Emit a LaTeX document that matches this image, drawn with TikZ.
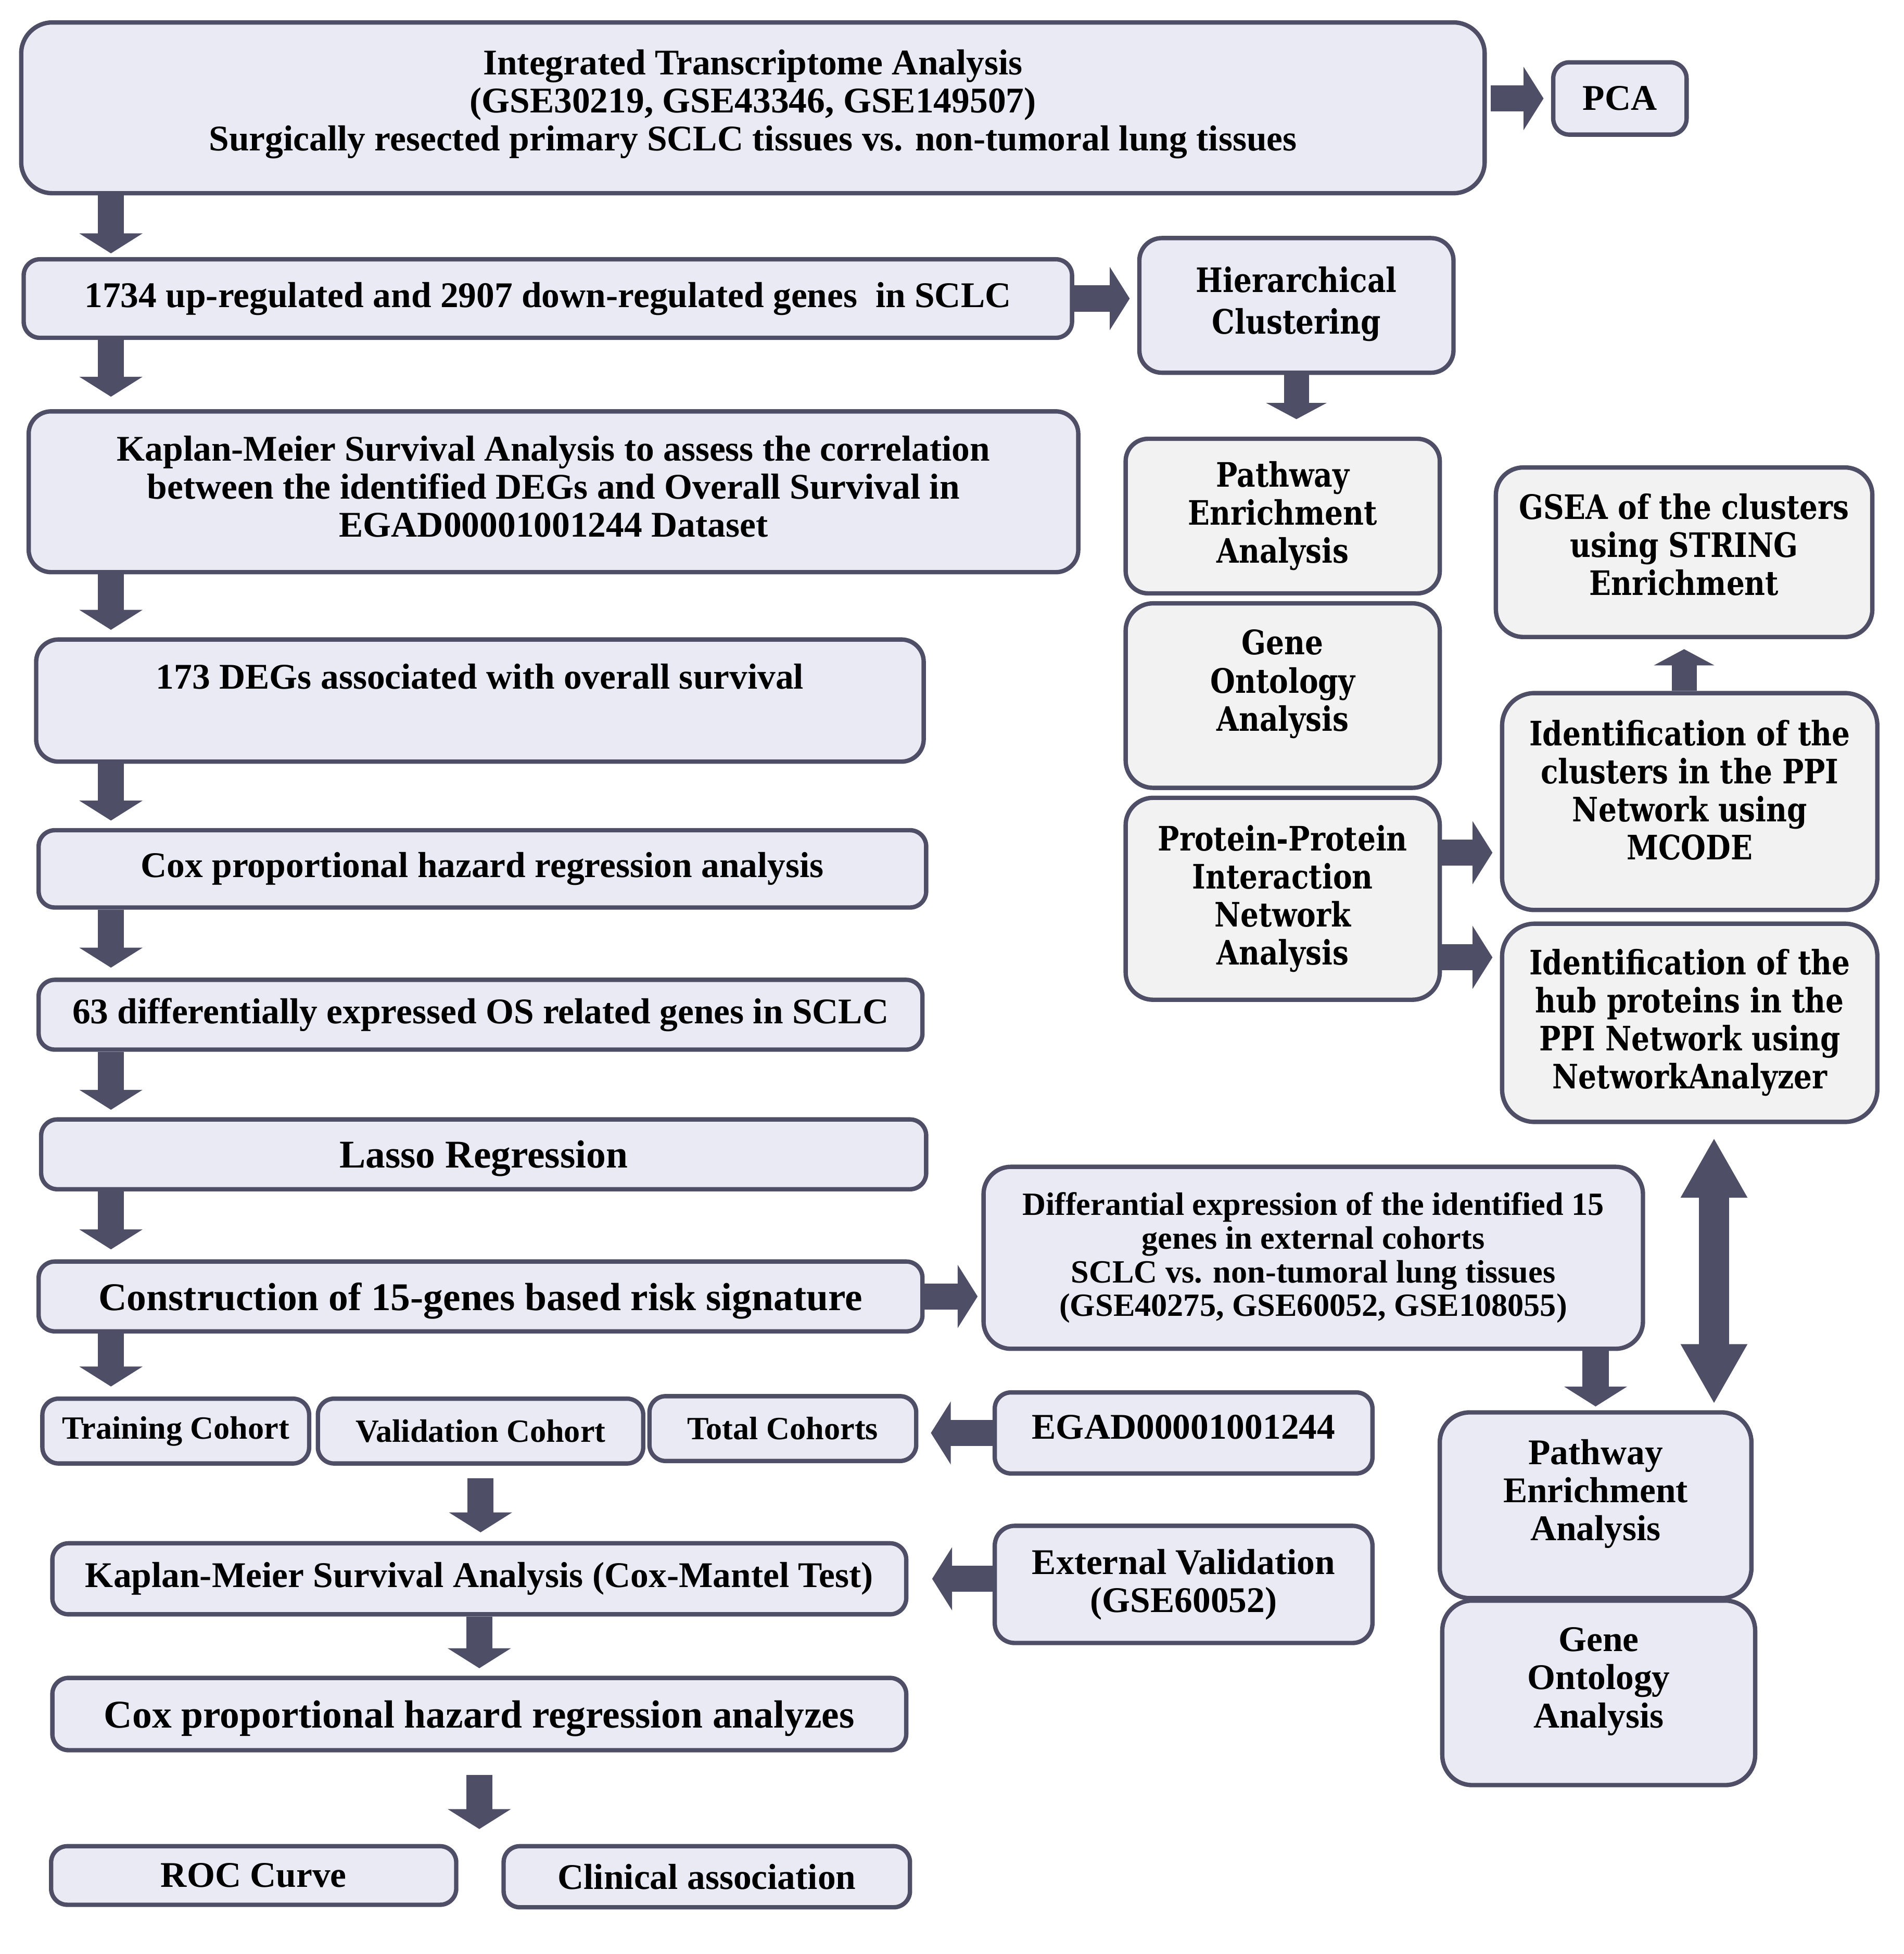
\documentclass[tikz,border=0pt]{standalone}
\usepackage{fontspec}
\setmainfont{Liberation Serif}
\newfontfamily\centfont[FakeStretch=0.85]{DejaVu Serif}
\usetikzlibrary{arrows.meta,calc}
\definecolor{edge}{RGB}{78,78,102}
\definecolor{lav}{RGB}{234,234,244}
\definecolor{pale}{RGB}{242,242,242}

\begin{document}
\begin{tikzpicture}[x=1pt,y=-1pt,
	box/.style={draw=edge,line width=3.5pt,rounded corners=13pt,fill=lav,align=center,inner sep=0pt,font=\bfseries\fontsize{29}{30.5}\selectfont},
	gbox/.style={box,fill=pale,font=\centfont\bfseries\fontsize{27}{30.5}\selectfont},
	big/.style={font=\bfseries\fontsize{31.5}{33}\selectfont,text depth=0pt},
	mid/.style={font=\bfseries\fontsize{26}{27}\selectfont},
	flow/.style={draw=edge,line width=21pt,-{Triangle[width=50pt,length=16pt]},shorten >=6pt},
	flowsm/.style={draw=edge,line width=20pt,-{Triangle[width=48pt,length=13pt]}},
	flowdbl/.style={draw=edge,line width=24pt,{Triangle[width=50pt,length=48pt]}-{Triangle[width=50pt,length=48pt]},shorten <=11pt,shorten >=5pt}]
	\useasboundingbox (0,0) rectangle (1527,1567.5);
	% left column
	\node[box,rounded corners=25pt,minimum width=1174pt,minimum height=137pt] (integ) at (604,86.5) {Integrated Transcriptome Analysis\\(GSE30219, GSE43346, GSE149507)\\Surgically resected primary SCLC tissues vs. non-tumoral lung tissues\\[-18pt]~};
	\node[box,minimum width=107pt,minimum height=58pt] (pca) at (1299.5,79) {PCA};
	\node[box,minimum width=841pt,minimum height=63pt] (degs) at (439.5,239.5) {1734 up-regulated and 2907 down-regulated genes\ \ in SCLC};
	\node[box,minimum width=842pt,minimum height=129pt,rounded corners=18pt] (kmsurv) at (444,394.5) {Kaplan-Meier Survival Analysis to assess the correlation\\between the identified DEGs and Overall Survival in\\EGAD00001001244 Dataset\\[-22pt]~};
	\node[box,minimum width=712pt,minimum height=98pt,rounded corners=18pt] (osdegs) at (385,562) {173 DEGs associated with overall survival\\[8pt]~};
	\node[box,minimum width=712pt,minimum height=62pt] (coxa) at (387,697) {Cox proportional hazard regression analysis};
	\node[box,minimum width=709pt,minimum height=56pt] (osgenes) at (385.5,814) {63 differentially expressed OS related genes in SCLC};
	\node[box,big,minimum width=710pt,minimum height=56pt] (lasso) at (388,926) {Lasso Regression};
	\node[box,big,minimum width=709pt,minimum height=56pt] (sig) at (385.5,1040) {Construction of 15-genes based risk signature};
	\node[box,mid,minimum width=214pt,minimum height=52pt] (train) at (141,1148) {Training Cohort};
	\node[box,mid,minimum width=261pt,minimum height=52pt] (valid) at (385.5,1148) {Validation Cohort};
	\node[box,mid,minimum width=214pt,minimum height=52pt] (total) at (628,1146) {Total Cohorts};
	\node[box,minimum width=685pt,minimum height=57pt] (kmcox) at (384.5,1266.5) {Kaplan-Meier Survival Analysis (Cox-Mantel Test)};
	\node[box,big,minimum width=685pt,minimum height=58pt] (coxb) at (384.5,1375) {Cox proportional hazard regression analyzes};
	\node[box,minimum width=325pt,minimum height=47pt] (roc) at (203.5,1504.5) {ROC Curve};
	\node[box,minimum width=326pt,minimum height=49pt] (clin) at (567,1505.5) {Clinical association};
	% right side
	\node[gbox,fill=lav,minimum width=252pt,minimum height=108pt,rounded corners=18pt] (hclust) at (1040,245) {Hierarchical\\[3pt]Clustering\\[-22pt]~};
	\node[gbox,minimum width=252pt,minimum height=124pt,rounded corners=18pt] (pwa) at (1029,414) {Pathway\\Enrichment\\Analysis};
	\node[gbox,minimum width=252pt,minimum height=148pt,rounded corners=22pt] (goa) at (1029,558) {Gene\\Ontology\\Analysis\\[-6pt]~};
	\node[gbox,minimum width=252pt,minimum height=162pt,rounded corners=22pt] (ppi) at (1029,721) {Protein-Protein\\Interaction\\Network\\Analysis};
	\node[gbox,minimum width=302pt,minimum height=136pt,rounded corners=22pt] (gsea) at (1351,443) {GSEA of the clusters\\using STRING\\Enrichment\\[-18pt]~};
	\node[gbox,minimum width=301pt,minimum height=174pt,rounded corners=26pt] (mcode) at (1355.5,643) {Identification of the\\clusters in the PPI\\Network using\\MCODE\\[-12pt]~};
	\node[gbox,minimum width=301pt,minimum height=159pt,rounded corners=26pt] (hub) at (1355.5,820.5) {Identification of the\\hub proteins in the\\PPI Network using\\NetworkAnalyzer};
	\node[box,mid,minimum width=529pt,minimum height=146pt,rounded corners=22pt] (difexp) at (1053.5,1009) {Differantial expression of the identified 15\\genes in external cohorts\\SCLC vs. non-tumoral lung tissues\\(GSE40275, GSE60052, GSE108055)};
	\node[box,minimum width=303pt,minimum height=65pt,text depth=10pt] (egad) at (949.5,1149.5) {EGAD00001001244};
	\node[box,minimum width=303pt,minimum height=94pt,rounded corners=16pt] (extval) at (949.5,1271) {External Validation\\(GSE60052)};
	\node[box,minimum width=250pt,minimum height=149pt,rounded corners=24pt] (pwb) at (1280,1207.5) {Pathway\\Enrichment\\Analysis\\[-6pt]~};
	\node[box,minimum width=251pt,minimum height=148pt,rounded corners=24pt] (gob) at (1282.5,1358) {Gene\\Ontology\\Analysis\\[-6pt]~};
	% arrows
	\coordinate (lx) at (89,0);
	\coordinate (dx) at (1375,0);
	\draw[flow,shorten >=3pt] (integ.south -| lx) -- (degs.north -| lx);
	\draw[flow,shorten >=10pt] (degs.south -| lx) -- (kmsurv.north -| lx);
	\draw[flow] (kmsurv.south -| lx) -- (osdegs.north -| lx);
	\draw[flow] (osdegs.south -| lx) -- (coxa.north -| lx);
	\draw[flow,shorten >=8pt] (coxa.south -| lx) -- (osgenes.north -| lx);
	\draw[flow] (osgenes.south -| lx) -- (lasso.north -| lx);
	\draw[flow,shorten >=8pt] (lasso.south -| lx) -- (sig.north -| lx);
	\draw[flow,shorten >=8pt] (sig.south -| lx) -- (train.north -| lx);
	\draw[flow,shorten <=10pt,shorten >=7pt] (valid.south) -- (valid.south |- kmcox.north);
	\draw[flow] (kmcox.south) -- (kmcox.south |- coxb.north);
	\draw[flow,shorten <=18pt,shorten >=12pt] (coxb.south) -- (coxb.south |- roc.north);
	\draw[flow,shorten <=3pt] (integ.east |- pca) -- (pca.west);
	\draw[flow] (degs.east) -- (degs.east -| hclust.west);
	\draw[flowsm,shorten >=14pt] (hclust.south) -- (hclust.south |- pwa.north);
	\draw[flow] ([yshift=37pt]ppi.east) coordinate (p1) -- (p1 -| mcode.west);
	\draw[flow] ([yshift=-47pt]ppi.east) coordinate (p2) -- (p2 -| hub.west);
	\draw[flowsm,shorten >=8pt] (mcode.north -| gsea.south) -- (gsea.south);
	\draw[flow,shorten >=3pt] (sig.east) -- (sig.east -| difexp.west);
	\draw[flow,shorten >=10pt] (egad.west) -- (egad.west -| total.east);
	\draw[flow,shorten >=19pt] (extval.west |- kmcox) -- (kmcox.east);
	\draw[flow,shorten >=3pt] (difexp.south -| pwb) -- (pwb.north);
	\draw[flowdbl] (hub.south -| dx) -- (pwb.north -| dx);
\end{tikzpicture}
\end{document}
